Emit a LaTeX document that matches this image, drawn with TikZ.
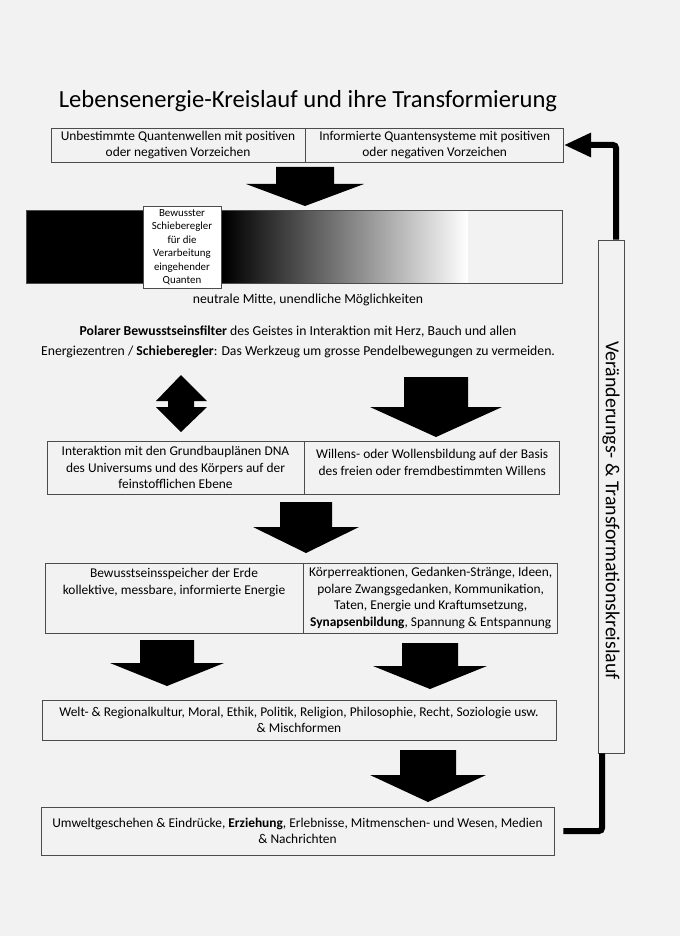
\documentclass[tikz,border=0pt]{standalone}
\usepackage{fontspec}
\setmainfont{Carlito}
\usetikzlibrary{arrows.meta,positioning}

% block arrow pointing down: centre x, top, start of head, tip, half shaft, half head
\newcommand{\bigdown}[6]{%
  \fill[blockarrow] (#1-#5,#2) -- (#1+#5,#2) -- (#1+#5,#3) -- (#1+#6,#3) -- (#1,#4) -- (#1-#6,#3) -- (#1-#5,#3) -- cycle;}

\begin{document}
\begin{tikzpicture}[
      x=1pt, y=-1pt,
      >=Latex,
      box/.style={draw=black!70, line width=0.7pt, align=center, inner sep=2pt, font=\fontsize{13.4}{16.5}\selectfont},
      note/.style={align=center, font=\fontsize{13.7}{20}\selectfont},
      blockarrow/.style={fill=black},
      loopline/.style={line width=6pt, draw=black, rounded corners=3pt}
    ]
    \fill[black!5] (0,0) rectangle (680,936);
    \useasboundingbox (0,0) rectangle (680,936);

    \node[anchor=base, font=\fontsize{24.6}{28}\selectfont] (title) at (308,108) {Lebensenergie-Kreislauf und ihre Transformierung};

    \node[box, minimum width=254, minimum height=34] (waves) at (178,145) {Unbestimmte Quantenwellen mit positiven\\oder negativen Vorzeichen};
    \node[box, minimum width=258, minimum height=34, right=0pt of waves] (systems) {Informierte Quantensysteme mit positiven\\oder negativen Vorzeichen};

    \bigdown{305}{167}{184}{206}{29}{59}

    % slider bar
    \fill[black] (26,210) rectangle (224,283);
    \shade[left color=black, middle color=black!70, right color=white] (224,210) rectangle (468,283);
    \node[draw=black!70, line width=0.7pt, minimum width=536, minimum height=73] (bar) at (294,246.5) {};
    \node[box, fill=white, inner sep=1pt, font=\fontsize{10.9}{13.5}\selectfont, minimum width=78, minimum height=82] (slider) at (182,247) {Bewusster\\Schieberegler\\für die\\Verarbeitung\\eingehender\\Quanten};

    \node[note] (neutral) at (308,300) {neutrale Mitte, unendliche Möglichkeiten};
    \node[note] (filter) at (298,342) {\textbf{Polarer Bewusstseinsfilter} des Geistes in Interaktion mit Herz, Bauch und allen\\Energiezentren / \textbf{Schieberegler}: Das Werkzeug um grosse Pendelbewegungen zu vermeiden.};

    % up and down arrow
    \fill[blockarrow] (181,375) -- (207,401) -- (194,401) -- (194,407) -- (207,407) -- (181,432) -- (156,407) -- (168,407) -- (168,401) -- (156,401) -- cycle;
    \bigdown{436}{377}{407}{437}{32}{66}

    \node[box, minimum width=257, minimum height=53] (blueprint) at (175.5,467.5) {Interaktion mit den Grundbauplänen DNA\\des Universums und des Körpers auf der\\feinstofflichen Ebene};
    \node[box, minimum width=255, minimum height=53, right=0pt of blueprint] (will) {Willens- oder Wollensbildung auf der Basis\\des freien oder fremdbestimmten Willens\\[-6pt]\mbox{}};

    \bigdown{306}{502}{527}{553}{26}{53}

    \node[box, minimum width=258, minimum height=70] (memory) at (174,598) {Bewusstseinsspeicher der Erde\\kollektive, messbare, informierte Energie\\ \mbox{}\\ \mbox{}};
    \node[box, minimum width=254, minimum height=70, right=0pt of memory] (body) {Körperreaktionen, Gedanken-Stränge, Ideen,\\polare Zwangsgedanken, Kommunikation,\\Taten, Energie und Kraftumsetzung,\\\textbf{Synapsenbildung}, Spannung \& Entspannung};

    \bigdown{167}{640}{663}{686}{27}{57}
    \bigdown{430}{643}{666}{689}{28}{57}

    \node[box, minimum width=514, minimum height=40] (culture) at (299,720) {Welt- \& Regionalkultur, Moral, Ethik, Politik, Religion, Philosophie, Recht, Soziologie usw.\\\& Mischformen};

    \bigdown{428}{750}{775}{802}{28}{58}

    \node[box, minimum width=513, minimum height=48] (environment) at (297.5,831) {Umweltgeschehen \& Eindrücke, \textbf{Erziehung}, Erlebnisse, Mitmenschen- und Wesen, Medien\\\& Nachrichten};

    % feedback loop
    \node[box, rotate=-90, inner sep=1pt, font=\fontsize{19.8}{20}\selectfont, minimum width=513, minimum height=26] (cycle) at (611,496.5) {\hspace*{28pt}Veränderungs- \& Transformationskreislauf};
    \draw[loopline, -{Triangle[length=27pt, width=23pt]}] ([xshift=5pt]cycle.west) |- (systems.east);
    \draw[loopline] ([xshift=-9pt]cycle.east) |- ([xshift=9pt]environment.east);
  \end{tikzpicture}
\end{document}
